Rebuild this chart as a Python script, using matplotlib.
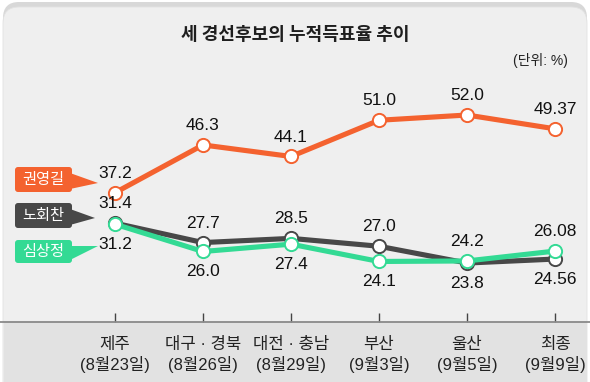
import matplotlib.pyplot as plt
from matplotlib.patches import FancyBboxPatch, Polygon, Rectangle

# data
stages = ['제주\n(8월23일)', '대구 · 경북\n(8월26일)', '대전 · 충남\n(8월29일)',
          '부산\n(9월3일)', '울산\n(9월5일)', '최종\n(9월9일)']
kwon = [37.2, 46.3, 44.1, 51.0, 52.0, 49.37]
noh = [31.4, 27.7, 28.5, 27.0, 23.8, 24.56]
sim = [31.2, 26.0, 27.4, 24.1, 24.2, 26.08]
kwon_txt = ['37.2', '46.3', '44.1', '51.0', '52.0', '49.37']
noh_txt = ['31.4', '27.7', '28.5', '27.0', '23.8', '24.56']
sim_txt = ['31.2', '26.0', '27.4', '24.1', '24.2', '26.08']

c_kwon = '#f4622f'
c_noh = '#484848'
c_sim = '#33da94'

num_font = ['Liberation Sans', 'Noto Sans CJK KR']
kr_font = ['Noto Sans CJK KR', 'DejaVu Sans']
mix_font = ['Liberation Sans', 'Noto Sans CJK KR']

W, H = 590, 382
fig = plt.figure(figsize=(W / 100, H / 100), dpi=100)
fig.patch.set_facecolor('white')

# background / decorations in pixel coords
bg = fig.add_axes([0, 0, 1, 1], zorder=0)
bg.set_xlim(0, W)
bg.set_ylim(H, 0)
bg.axis('off')
bg.add_patch(FancyBboxPatch((3, 2), W - 6, H + 30, boxstyle='round,pad=0,rounding_size=16',
                            fc='#d8d8d8', ec='none'))
bg.add_patch(FancyBboxPatch((3, 7), W - 6, H + 30, boxstyle='round,pad=0,rounding_size=16',
                            fc='#efefef', ec='#e2e2e2', lw=0.6))
bg.add_patch(Rectangle((3.5, 322), W - 7, 70, fc='#e2e2e2', ec='none'))

bg.text(295, 35, '세 경선후보의 누적득표율 추이', ha='center', va='center',
        fontsize=13, fontweight='bold', color='#1e1e1e', family=kr_font)
bg.text(568, 60, '(단위: %)', ha='right', va='center', fontsize=10,
        color='#222222', family=mix_font)

# name callouts
callouts = [('권영길', c_kwon, 167, 192, (98, 183)),
            ('노회찬', c_noh, 203, 228, (95, 218)),
            ('심상정', c_sim, 240, 263, (98, 246))]
for name, col, y0, y1, tip in callouts:
    bg.add_patch(FancyBboxPatch((15, y0), 57, y1 - y0, boxstyle='round,pad=0,rounding_size=3',
                                fc=col, ec='none'))
    bg.add_patch(Polygon([(70, y0 + 6), tip, (70, y1 - 3)], closed=True, fc=col, ec='none'))
    bg.text(43.5, (y0 + y1) / 2, name, ha='center', va='center', fontsize=11,
            color='white', family=kr_font)

# main chart
ax = fig.add_axes([0, (H - 322) / H, 1, (322 - 60) / H], zorder=1)
ax.patch.set_alpha(0)
x = list(range(len(stages)))
step = 88
ax.set_xlim(-115 / step, (W - 115) / step)
ax.set_ylim(12.57, 62.48)

for vals, col in [(kwon, c_kwon), (noh, c_noh), (sim, c_sim)]:
    ax.plot(x, vals, color=col, lw=3.7, marker='o', ms=9.5, mfc='white',
            mec=col, mew=1.4, solid_joinstyle='round', zorder=3)

def label(vals, txts, sides):
    for i, (v, t, s) in enumerate(zip(vals, txts, sides)):
        ax.annotate(t, (i, v), xytext=(0, 14 if s > 0 else -14.5), textcoords='offset points',
                    ha='center', va='center', fontsize=12.5, color='#111111', family=num_font)

label(kwon, kwon_txt, [1, 1, 1, 1, 1, 1])
label(noh, noh_txt, [1, 1, 1, 1, -1, -1])
label(sim, sim_txt, [-1, -1, -1, -1, 1, 1])

for s in ['top', 'left', 'right']:
    ax.spines[s].set_visible(False)
ax.spines['bottom'].set_color('#8a8a8a')
ax.spines['bottom'].set_linewidth(1.3)
ax.set_yticks([])
ax.set_xticks(x)
ax.set_xticklabels(stages, family=mix_font, fontsize=12, color='#222222', linespacing=1.3)
ax.tick_params(axis='x', direction='in', length=6.5, width=1, color='#444444', pad=11)

fig.savefig('out.png', dpi=100, facecolor=fig.get_facecolor())
